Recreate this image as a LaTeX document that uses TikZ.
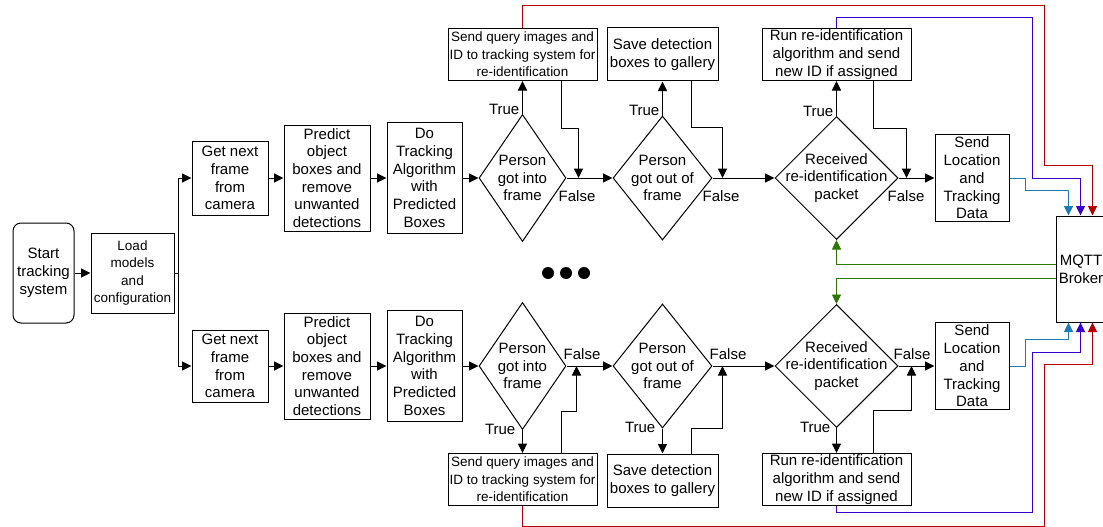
\documentclass[tikz,border=0pt]{standalone}
\usepackage{fontspec}
\setmainfont{Liberation Sans}
\usetikzlibrary{positioning, arrows.meta, calc, shapes.geometric}
\definecolor{colour_red}{HTML}{B20000}
\definecolor{colour_purple}{HTML}{3700CC}
\definecolor{colour_blue}{HTML}{1B7AB8}
\definecolor{colour_green}{HTML}{2D7600}

\begin{document}
\begin{tikzpicture}[
    x=1pt, y=1pt,
    font=\fontsize{15}{17.7}\selectfont,
    box/.style={rectangle, draw, line width=1pt, inner sep=0pt, align=center},
    decision/.style={diamond, draw, line width=1pt, inner sep=0pt},
    dtext/.style={align=center, inner sep=0pt},
    smalltext/.style={font=\fontsize{13.5}{17.6}\selectfont},
    arrow/.style={-{Triangle[length=9.5pt, width=9pt]}, line width=1pt},
    feed/.style={-{Triangle[length=9.5pt, width=9pt]}, line width=0.9pt},
    link/.style={line width=1pt},
    tf/.style={inner sep=0pt}
]
\fill[white] (0,0) rectangle (1103,-527);
\useasboundingbox (0,0) rectangle (1103,-527);

% Start and setup
\node[box, rounded corners=8pt, minimum width=61pt, minimum height=100pt] (start) at (43.5,-273) {Start\\tracking\\system};
\node[box, smalltext, minimum width=83pt, minimum height=80pt, right=16pt of start] (load) {Load\\models\\and\\configuration};

% Upper camera
\node[box, minimum width=76pt, minimum height=74pt] (get1) at (230,-178) {Get next\\frame\\from\\camera};
\node[box, minimum width=86pt, minimum height=106pt, right=15pt of get1] (pred1) {Predict\\object\\boxes and\\remove\\unwanted\\detections};
\node[box, minimum width=75pt, minimum height=111pt, right=16pt of pred1] (track1) {Do\\Tracking\\Algorithm\\with\\Predicted\\Boxes};
\node[decision, minimum width=87pt, minimum height=127pt, right=16pt of track1,
      label={[dtext]center:{Person\\got into\\frame}}] (into1) {};
\node[decision, minimum width=99pt, minimum height=124pt, right=46pt of into1,
      label={[dtext]center:{Person\\got out of\\frame}}] (out1) {};
\node[decision, minimum width=123pt, minimum height=123pt, right=62pt of out1,
      label={[dtext]center:{Received\\re-identification\\packet}}] (recv1) {};
\node[box, minimum width=74pt, minimum height=87pt, right=36pt of recv1] (send1) {Send\\Location\\and\\Tracking\\Data};
\node[box, smalltext, minimum width=149pt, minimum height=52pt, above=33pt of into1] (query1) {Send query images and\\ID to tracking system for\\re-identification};
\node[box, minimum width=111pt, minimum height=53pt, above=34pt of out1] (save1) {Save detection\\boxes to gallery};
\node[box, minimum width=149pt, minimum height=52pt, above=35pt of recv1] (reid1) {Run re-identification\\algorithm and send\\new ID if assigned};

% Lower camera
\node[box, minimum width=76pt, minimum height=72pt] (get2) at (230,-366) {Get next\\frame\\from\\camera};
\node[box, minimum width=86pt, minimum height=106pt, right=15pt of get2] (pred2) {Predict\\object\\boxes and\\remove\\unwanted\\detections};
\node[box, minimum width=75pt, minimum height=111pt, right=16pt of pred2] (track2) {Do\\Tracking\\Algorithm\\with\\Predicted\\Boxes};
\node[decision, minimum width=87pt, minimum height=127pt, right=16pt of track2,
      label={[dtext]center:{Person\\got into\\frame}}] (into2) {};
\node[decision, minimum width=99pt, minimum height=124pt, right=46pt of into2,
      label={[dtext]center:{Person\\got out of\\frame}}] (out2) {};
\node[decision, minimum width=123pt, minimum height=123pt, right=62pt of out2,
      label={[dtext]center:{Received\\re-identification\\packet}}] (recv2) {};
\node[box, minimum width=74pt, minimum height=87pt, right=36pt of recv2] (send2) {Send\\Location\\and\\Tracking\\Data};
\node[box, smalltext, minimum width=149pt, minimum height=52pt, below=23pt of into2] (query2) {Send query images and\\ID to tracking system for\\re-identification};
\node[box, minimum width=111pt, minimum height=53pt, below=25pt of out2] (save2) {Save detection\\boxes to gallery};
\node[box, minimum width=149pt, minimum height=52pt, below=25pt of recv2] (reid2) {Run re-identification\\algorithm and send\\new ID if assigned};

% Broker
\node[box, minimum width=50pt, minimum height=106pt] (mqtt) at (1081,-269) {MQTT\\Broker};

% More cameras
\foreach \x in {548,566,584}
    \fill (\x,-273) circle (6pt);

% True / False labels
\node[tf, anchor=east] (true1) at ($(into1.north)+(-3,5)$) {True};
\node[tf, anchor=east] (true2) at ($(out1.north)+(-3,5)$) {True};
\node[tf, anchor=east] (true3) at ($(recv1.north)+(-3,5)$) {True};
\node[tf, anchor=west] (false1) at ($(into1.east)+(-8,-18)$) {False};
\node[tf, anchor=west] (false2) at ($(out1.east)+(-10,-18)$) {False};
\node[tf, anchor=west] (false3) at ($(recv1.east)+(-11,-18)$) {False};
\node[tf, anchor=east] (true4) at ($(into2.south)+(-7,1)$) {True};
\node[tf, anchor=east] (true5) at ($(out2.south)+(-7,1)$) {True};
\node[tf, anchor=east] (true6) at ($(recv2.south)+(-6,1)$) {True};
\node[tf, anchor=west] (false4) at ($(into2.east)+(-3,12)$) {False};
\node[tf, anchor=west] (false5) at ($(out2.east)+(-3,12)$) {False};
\node[tf, anchor=west] (false6) at ($(recv2.east)+(-5,12)$) {False};

% Join points
\coordinate (j1) at ($(into1.east)+(12,0)$);
\coordinate (j2) at ($(out1.east)+(10,0)$);
\coordinate (j3) at ($(recv1.east)+(8,0)$);
\coordinate (j4) at ($(into2.east)+(10,0)$);
\coordinate (j5) at ($(out2.east)+(10,0)$);
\coordinate (j6) at ($(recv2.east)+(13,0)$);

% Main flow
\draw[arrow] (start) -- (load);
\draw[link] (load.east) -- ++(4,0) coordinate (split);
\draw[arrow] (split) |- (get1);
\draw[arrow] (split) |- (get2);

\draw[arrow] (get1) -- (pred1);
\draw[arrow] (pred1) -- (track1);
\draw[arrow] (track1) -- (into1);
\draw[arrow] (into1) -- (out1);
\draw[arrow] (out1) -- (recv1);
\draw[arrow] (recv1) -- (send1);
\draw[arrow] (into1) -- (query1);
\draw[arrow] (out1) -- (save1);
\draw[arrow] (recv1) -- (reid1);
\draw[arrow] ($(query1.south)+(38.5,0)$) -- ++(0,-47) -| (j1);
\draw[arrow] ($(save1.south)+(28.5,0)$) -- ++(0,-46) -| (j2);
\draw[arrow] ($(reid1.south)+(36.5,0)$) -- ++(0,-47) -| (j3);

\draw[arrow] (get2) -- (pred2);
\draw[arrow] (pred2) -- (track2);
\draw[arrow] (track2) -- (into2);
\draw[arrow] (into2) -- (out2);
\draw[arrow] (out2) -- (recv2);
\draw[arrow] (recv2) -- (send2);
\draw[arrow] (into2) -- (query2);
\draw[arrow] (out2) -- (save2);
\draw[arrow] (recv2) -- (reid2);
\draw[arrow] ($(query2.north)+(38.5,0)$) -- ++(0,42) -| (j4);
\draw[arrow] ($(save2.north)+(28.5,0)$) -- ++(0,25) -| (j5);
\draw[arrow] ($(reid2.north)+(36.5,0)$) -- ++(0,43) -| (j6);

% To and from the broker
\draw[feed, colour_red] (query1.north) |- (1044,-5) |- ($(mqtt.north west)+(37,50)$) -- ($(mqtt.north west)+(37,0)$);
\draw[feed, colour_purple] (reid1.north) |- (1032,-17) |- ($(mqtt.north west)+(25,37)$) -- ($(mqtt.north west)+(25,0)$);
\draw[feed, colour_blue] (send1.east) -- ++(16,0) |- ($(mqtt.north west)+(13,25)$) -- ($(mqtt.north west)+(13,0)$);

\draw[feed, colour_red] (query2.south) |- (1044,-526) |- ($(mqtt.south west)+(37,-42)$) -- ($(mqtt.south west)+(37,0)$);
\draw[feed, colour_purple] (reid2.south) |- (1032,-512) |- ($(mqtt.south west)+(25,-30)$) -- ($(mqtt.south west)+(25,0)$);
\draw[feed, colour_blue] (send2.east) -- ++(16,0) |- ($(mqtt.south west)+(13,-17)$) -- ($(mqtt.south west)+(13,0)$);

\draw[feed, colour_green] ($(mqtt.west)+(0,5)$) -| (recv1.south);
\draw[feed, colour_green] ($(mqtt.west)+(0,-9)$) -| (recv2.north);

\end{tikzpicture}
\end{document}
